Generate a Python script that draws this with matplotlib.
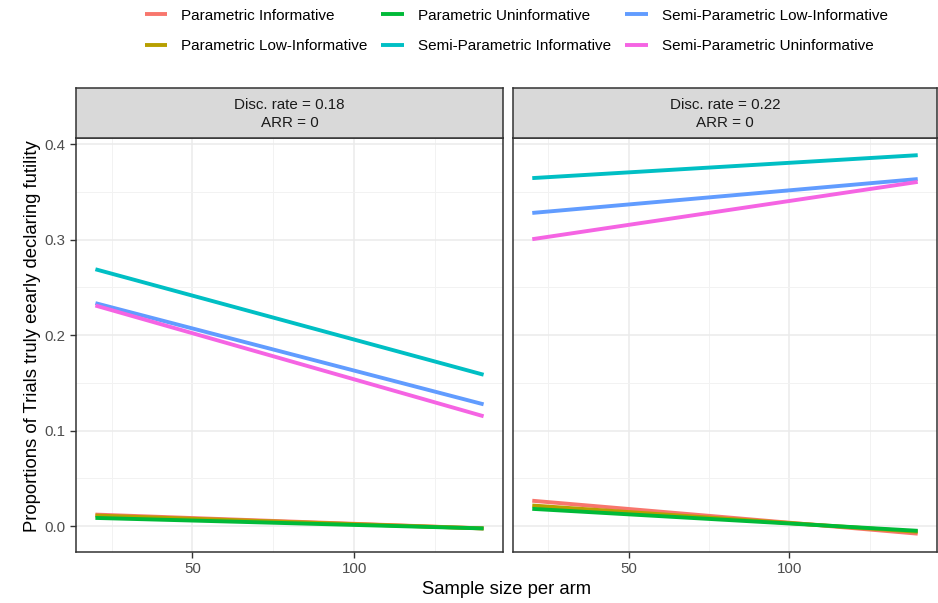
import matplotlib
matplotlib.use("Agg")
import matplotlib.pyplot as plt
from matplotlib.ticker import MultipleLocator

plt.rcParams['font.family'] = ['Liberation Sans', 'DejaVu Sans']

# ---- data ----
sample_size = [20, 140]
series_names = [
    "Parametric Informative",
    "Parametric Low-Informative",
    "Parametric Uninformative",
    "Semi-Parametric Informative",
    "Semi-Parametric Low-Informative",
    "Semi-Parametric Uninformative",
]
colors = ["#F8766D", "#B79F00", "#00BA38", "#00BFC4", "#619CFF", "#F564E3"]
panel_titles = ["Disc. rate = 0.18\nARR = 0", "Disc. rate = 0.22\nARR = 0"]

# fitted values at sample sizes 20 and 140, per panel
panel1_values = [
    [0.0120, -0.0025],
    [0.0110, -0.0025],
    [0.0085, -0.0025],
    [0.2690, 0.1585],
    [0.2335, 0.1275],
    [0.2310, 0.1150],
]
panel2_values = [
    [0.0265, -0.0080],
    [0.0215, -0.0060],
    [0.0180, -0.0050],
    [0.3645, 0.3885],
    [0.3280, 0.3635],
    [0.3005, 0.3605],
]
panels = [panel1_values, panel2_values]

W, H = 938, 603
fig = plt.figure(figsize=(W / 100, H / 100), dpi=100)

def fx(px):
    return px / W

def fy(py):
    return 1 - py / H

ax_top, ax_bot = 138, 552
strip_top = 88
lefts = [(76, 503), (513, 937)]
axes = []
for i, (l, r) in enumerate(lefts):
    ax = fig.add_axes([fx(l), fy(ax_bot), fx(r - l), fy(ax_top) - fy(ax_bot)])
    axes.append(ax)
    ax.set_xlim(14, 146)
    ax.set_ylim(-0.0272, 0.4065)
    ax.set_facecolor("white")
    ax.xaxis.set_major_locator(MultipleLocator(50))
    ax.xaxis.set_minor_locator(MultipleLocator(25))
    ax.yaxis.set_major_locator(MultipleLocator(0.1))
    ax.yaxis.set_minor_locator(MultipleLocator(0.05))
    ax.grid(True, which="major", color="#EBEBEB", lw=1.1, zorder=0)
    ax.grid(True, which="minor", color="#F2F2F2", lw=0.7, zorder=0)
    ax.set_axisbelow(True)
    for s in ax.spines.values():
        s.set_color("#333333")
        s.set_linewidth(1.1)
    ax.tick_params(which="minor", length=0)
    ax.tick_params(which="major", length=4, width=1, color="#333333",
                   labelsize=10.8, labelcolor="#4D4D4D")
    ax.set_xticks([50, 100])
    ax.set_xticklabels(["50", "100"])
    if i == 0:
        ax.set_yticks([0.0, 0.1, 0.2, 0.3, 0.4])
        ax.set_yticklabels(["0.0", "0.1", "0.2", "0.3", "0.4"])
    else:
        ax.tick_params(axis="y", which="both", left=False, labelleft=False)
    for name, col, vals in zip(series_names, colors, panels[i]):
        ax.plot(sample_size, vals, color=col, lw=2.8, label=name,
                solid_capstyle="butt", zorder=3)
    # strip
    sax = fig.add_axes([fx(l), fy(ax_top), fx(r - l), fy(strip_top) - fy(ax_top)])
    sax.set_xticks([])
    sax.set_yticks([])
    sax.set_facecolor("#D9D9D9")
    for s in sax.spines.values():
        s.set_color("#333333")
        s.set_linewidth(1.1)
    sax.text(0.5, 0.48, panel_titles[i], ha="center", va="center",
             fontsize=10.9, color="#1A1A1A", linespacing=1.3,
             transform=sax.transAxes)

fig.text(fx(33), fy(336), "Proportions of Trials truly eearly declaring futility",
         rotation=90, ha="center", va="center", fontsize=13.3, color="black")
fig.text(fx(507), fy(590), "Sample size per arm", ha="center", va="center",
         fontsize=13.3, color="black")

handles, labels = axes[0].get_legend_handles_labels()
fig.legend(handles, labels, loc="center", bbox_to_anchor=(fx(516), fy(31)),
           ncol=3, frameon=False, fontsize=11, handlelength=1.5,
           handletextpad=0.9, columnspacing=0.9, labelspacing=1.1)

fig.savefig("out.png", dpi=100)
